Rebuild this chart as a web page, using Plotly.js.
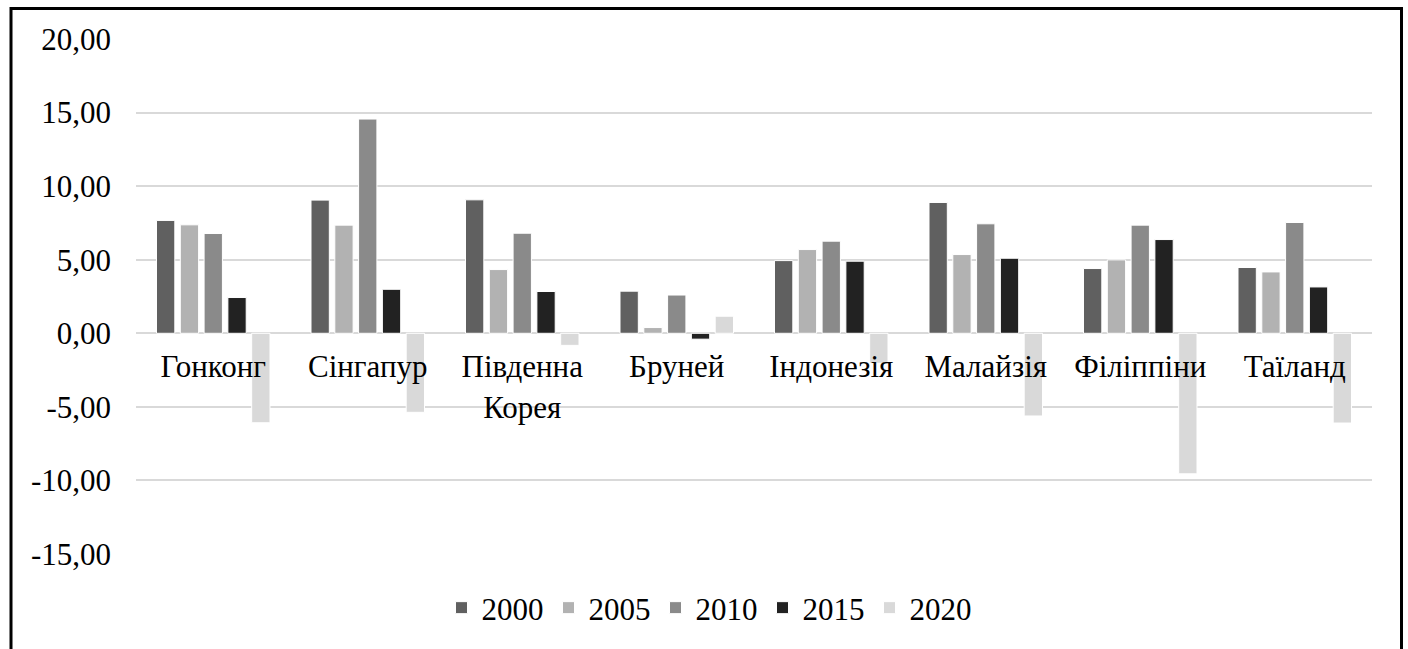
<!DOCTYPE html>
<html>
<head>
<meta charset="utf-8">
<script src="https://cdn.plot.ly/plotly-3.0.1.min.js"></script>
<style>
  html, body { margin: 0; padding: 0; background: #ffffff; }
  #chart { width: 1408px; height: 649px; }
</style>
</head>
<body>
<div id="chart"></div>
<script>
// Countries on the category axis
const countries = ['Гонконг', 'Сінгапур', 'Південна<br>Корея', 'Бруней', 'Індонезія', 'Малайзія', 'Філіппіни', 'Таїланд'];

// Series names
const years = ['2000', '2005', '2010', '2015', '2020'];

// Values per year, one entry per country
const v2000 = [7.67, 9.05, 9.07, 2.86, 4.94, 8.89, 4.40, 4.47];
const v2005 = [7.37, 7.35, 4.33, 0.39, 5.69, 5.35, 4.99, 4.17];
const v2010 = [6.78, 14.56, 6.80, 2.60, 6.26, 7.44, 7.35, 7.53];
const v2015 = [2.43, 2.99, 2.84, -0.40, 4.90, 5.10, 6.37, 3.15];
const v2020 = [-6.08, -5.37, -0.82, 1.16, -2.04, -5.62, -9.55, -6.10];

// Value axis ticks
const yTickVals = [-15, -10, -5, 0, 5, 10, 15, 20];
const yTickText = ['-15,00', '-10,00', '-5,00', '0,00', '5,00', '10,00', '15,00', '20,00'];

const seriesValues = [v2000, v2005, v2010, v2015, v2020];
const seriesColors = ['#606060', '#b2b2b2', '#8a8a8a', '#222222', '#d9d9d9'];

const FONT = "'Liberation Serif', 'Times New Roman', Times, serif";
const yMin = -15, yMax = 20;

const traces = years.map((yr, i) => ({
  type: 'bar',
  name: yr,
  x: countries,
  y: seriesValues[i],
  marker: { color: seriesColors[i], line: { color: '#ffffff', width: 1 } },
  hoverinfo: 'x+y+name'
}));

// Plot area in pixels, used to place the frame around the chart
const M = { l: 136, r: 36, t: 39, b: 95 };
const W = 1408, H = 649;
const pw = W - M.l - M.r, ph = H - M.t - M.b;
const px = v => (v - M.l) / pw;
const py = v => (H - M.b - v) / ph;

const layout = {
  width: W,
  height: H,
  margin: M,
  paper_bgcolor: '#ffffff',
  plot_bgcolor: '#ffffff',
  font: { family: FONT, size: 31, color: '#000000' },
  barmode: 'group',
  bargap: 0.23,
  bargroupgap: 0.23,
  showlegend: true,
  legend: {
    orientation: 'h',
    x: px(709),
    xanchor: 'center',
    y: py(608),
    yanchor: 'middle',
    font: { family: FONT, size: 31, color: '#000000' },
    itemclick: false,
    tracegroupgap: 0
  },
  xaxis: {
    type: 'category',
    anchor: 'free',
    position: (0 - yMin) / (yMax - yMin),
    showline: false,
    showgrid: false,
    ticks: '',
    tickfont: { family: FONT, size: 31, color: '#000000' },
    ticklabelstandoff: 12,
    fixedrange: true
  },
  yaxis: {
    range: [yMin, yMax],
    tickvals: yTickVals,
    ticktext: yTickText,
    showgrid: true,
    gridcolor: '#d9d9d9',
    gridwidth: 2,
    zeroline: true,
    zerolinecolor: '#d9d9d9',
    zerolinewidth: 2,
    showline: false,
    ticks: '',
    tickfont: { family: FONT, size: 31, color: '#000000' },
    ticklabelstandoff: 24,
    fixedrange: true
  },
  shapes: [
    {
      type: 'rect',
      xref: 'paper', yref: 'paper',
      x0: px(11), x1: px(1401.5),
      y0: py(680), y1: py(8.5),
      line: { color: '#000000', width: 3 },
      fillcolor: 'rgba(0,0,0,0)',
      layer: 'above'
    }
  ]
};

Plotly.newPlot('chart', traces, layout, { displayModeBar: false, staticPlot: true });
</script>
</body>
</html>
